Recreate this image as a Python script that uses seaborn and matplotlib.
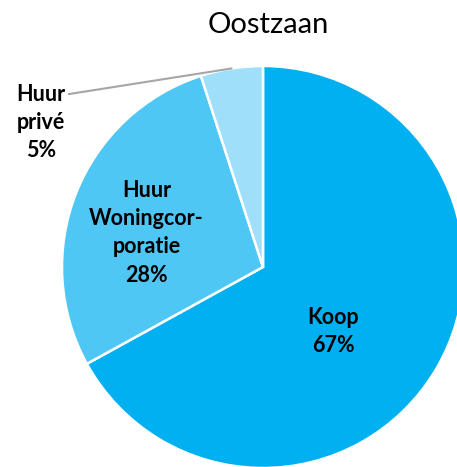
import numpy as np
import seaborn as sns
import matplotlib.pyplot as plt

sns.set_theme(style="white")
plt.rcParams['font.family'] = ['Lato', 'DejaVu Sans']

categories = ["Koop", "Huur\nWoningcor-\nporatie", "Huur\nprivé"]
shares = [67, 28, 5]
colors = ["#00B0F0", "#4FC7F4", "#A0DFF9"]

fig = plt.figure(figsize=(4.57, 4.67), dpi=100)
# pie centre at (263, 267) px, radius ~201 px
ax = fig.add_axes([62 / 457, -1 / 467, 402 / 457, 402 / 467])

wedges, _ = ax.pie(shares, colors=colors, startangle=90, counterclock=False,
                   radius=1, wedgeprops=dict(edgecolor="white", linewidth=1.8))
ax.set_xlim(-1, 1)
ax.set_ylim(-1, 1)
ax.set_aspect("equal", adjustable="box")
ax.axis("off")

lab_style = dict(ha="center", va="center", fontsize=15.5, fontweight="bold",
                 color="black", linespacing=1.42)

# inside labels
ax.text(0.35, -0.32, f"{categories[0]}\n{shares[0]}%", **lab_style)
ax.text(-0.58, 0.17, f"{categories[1]}\n{shares[1]}%", **lab_style)

# outside label with leader line for the small slice
w = wedges[2]
mid = np.deg2rad((w.theta1 + w.theta2) / 2)
ax.annotate(f"{categories[2]}\n{shares[2]}%",
            xy=(np.cos(mid), np.sin(mid)), xytext=(-1.105, 0.72),
            textcoords="data", annotation_clip=False,
            arrowprops=dict(arrowstyle="-", color="#A6A6A6", lw=1.5,
                            shrinkA=0, shrinkB=0,
                            relpos=(1.02, 0.86)),
            **lab_style)

fig.text(268 / 457, 1 - 25 / 467, "Oostzaan", ha="center", va="center",
         fontsize=21, color="black")

fig.savefig("out.png", dpi=100)
